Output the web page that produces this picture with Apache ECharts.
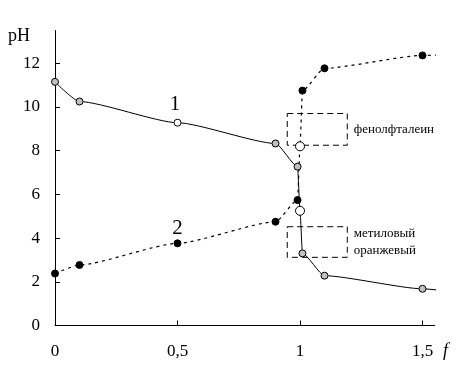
<!DOCTYPE html>
<html>
<head>
<meta charset="utf-8">
<script src="https://cdn.jsdelivr.net/npm/echarts@6/dist/echarts.min.js"></script>
<style>html,body{margin:0;padding:0;background:#fff}#c{width:460px;height:375px}</style>
</head>
<body>
<div id="c"></div>
<script>
// Curve 1 (solid line, measured points)
const curve1F  = [0, 0.1, 0.5, 0.9, 0.99, 1.01, 1.1, 1.5];
const curve1PH = [11.15, 10.25, 9.28, 8.33, 7.27, 3.3, 2.28, 1.68];
// Curve 2 (dotted line, measured points)
const curve2F  = [0, 0.1, 0.5, 0.9, 0.99, 1.01, 1.1, 1.5];
const curve2PH = [2.38, 2.77, 3.76, 4.75, 5.74, 10.75, 11.77, 12.36];
// Equivalence points (open circles): [f, pH]
const eqCurve1 = [1.0, 5.25];
const eqCurve2 = [1.0, 8.2];
// Where lines end beyond last marker
const end1 = [1.575, 1.61];
const end2 = [1.575, 12.38];
// Indicator ranges (pH)
const phenolRange = [8.25, 9.7];
const methylRange = [3.12, 4.52];
const indicatorF = [0.948, 1.193];
const phenolName = 'фенолфталеин';
const methylName = 'метиловый\nоранжевый';
// Ticks
const xTicks = [0, 0.5, 1, 1.5];
const yTicks = [0, 2, 4, 6, 8, 10, 12];
const curveLabels = ['1', '2'];

function pairs(fs, ps){ return fs.map((f,i)=>[f, ps[i]]); }
function sortByF(a){ return a.slice().sort((p,q)=>p[0]-q[0]); }

const line1 = sortByF(pairs(curve1F, curve1PH).concat([eqCurve1, end1]));
const line2 = sortByF(pairs(curve2F, curve2PH).concat([eqCurve2, end2]));

const serif = '"Times New Roman", "Liberation Serif", serif';
const chart = echarts.init(document.getElementById('c'));
chart.setOption({
  animation: false,
  backgroundColor: '#fff',
  grid: { left: 55, top: 30.5, width: 379.75, height: 295 },
  xAxis: {
    type: 'value', min: 0, max: 1.55, interval: 0.5,
    axisLine: { show: true, lineStyle: { color: '#000', width: 1 } },
    axisTick: { show: true, inside: true, length: 5, lineStyle: { color: '#000' }, customValues: xTicks },
    axisLabel: { color: '#000', fontFamily: serif, fontSize: 17, margin: 18, customValues: xTicks,
      formatter: v => String(v).replace('.', ',') },
    splitLine: { show: false }
  },
  yAxis: {
    type: 'value', min: 0, max: 13.5, interval: 2,
    axisLine: { show: true, lineStyle: { color: '#000', width: 1 } },
    axisTick: { show: true, inside: true, length: 5, lineStyle: { color: '#000' }, customValues: yTicks },
    axisLabel: { color: '#000', fontFamily: serif, fontSize: 17, margin: 15, customValues: yTicks },
    splitLine: { show: false }
  },
  series: [
    { type: 'line', data: line1, smooth: 0.2, smoothMonotone: 'x', showSymbol: false, clip: false,
      lineStyle: { color: '#000', width: 1 }, z: 2 },
    { type: 'line', data: line2, smooth: 0.2, smoothMonotone: 'x', showSymbol: false, clip: false,
      lineStyle: { color: '#000', width: 1.2, type: [3, 4] }, z: 2,
      markArea: {
        silent: true,
        itemStyle: { color: 'rgba(0,0,0,0)', borderColor: '#000', borderWidth: 1, borderType: [6, 4] },
        label: { show: true, position: 'right', distance: 6, color: '#000', fontFamily: serif, fontSize: 13, lineHeight: 17 },
        data: [
          [{ name: phenolName, coord: [indicatorF[0], phenolRange[1]] }, { coord: [indicatorF[1], phenolRange[0]] }],
          [{ name: methylName, coord: [indicatorF[0], methylRange[1]] }, { coord: [indicatorF[1], methylRange[0]] }]
        ]
      }
    },
    { type: 'scatter', symbol: 'circle', symbolSize: 7, z: 5,
      data: pairs(curve1F, curve1PH).map(p => p[0] === 0.5 ? { value: p, itemStyle: { color: '#fff' } } : p),
      itemStyle: { color: '#c0c0c0', borderColor: '#000', borderWidth: 1, opacity: 1 } },
    { type: 'scatter', symbol: 'circle', symbolSize: 7, z: 5,
      data: pairs(curve2F, curve2PH),
      itemStyle: { color: '#000', borderColor: '#000', borderWidth: 1, opacity: 1 } },
    { type: 'scatter', symbol: 'circle', symbolSize: 9, z: 5,
      data: [eqCurve1, eqCurve2],
      itemStyle: { color: '#fff', borderColor: '#000', borderWidth: 1, opacity: 1 } }
  ],
  graphic: [
    { type: 'text', left: 8, top: 27, style: { text: 'pH', fill: '#000', font: '18px "Times New Roman", "Liberation Serif", serif' } },
    { type: 'text', left: 443, top: 342, style: { text: 'f', fill: '#000', font: 'italic 18px "Times New Roman", "Liberation Serif", serif' } },
    { type: 'text', x: 175, y: 104, style: { text: curveLabels[0], fill: '#000', font: '21px "Times New Roman", "Liberation Serif", serif', align: 'center', verticalAlign: 'middle' } },
    { type: 'text', x: 177.5, y: 228.5, style: { text: curveLabels[1], fill: '#000', font: '21px "Times New Roman", "Liberation Serif", serif', align: 'center', verticalAlign: 'middle' } }
  ]
});
</script>
</body>
</html>
